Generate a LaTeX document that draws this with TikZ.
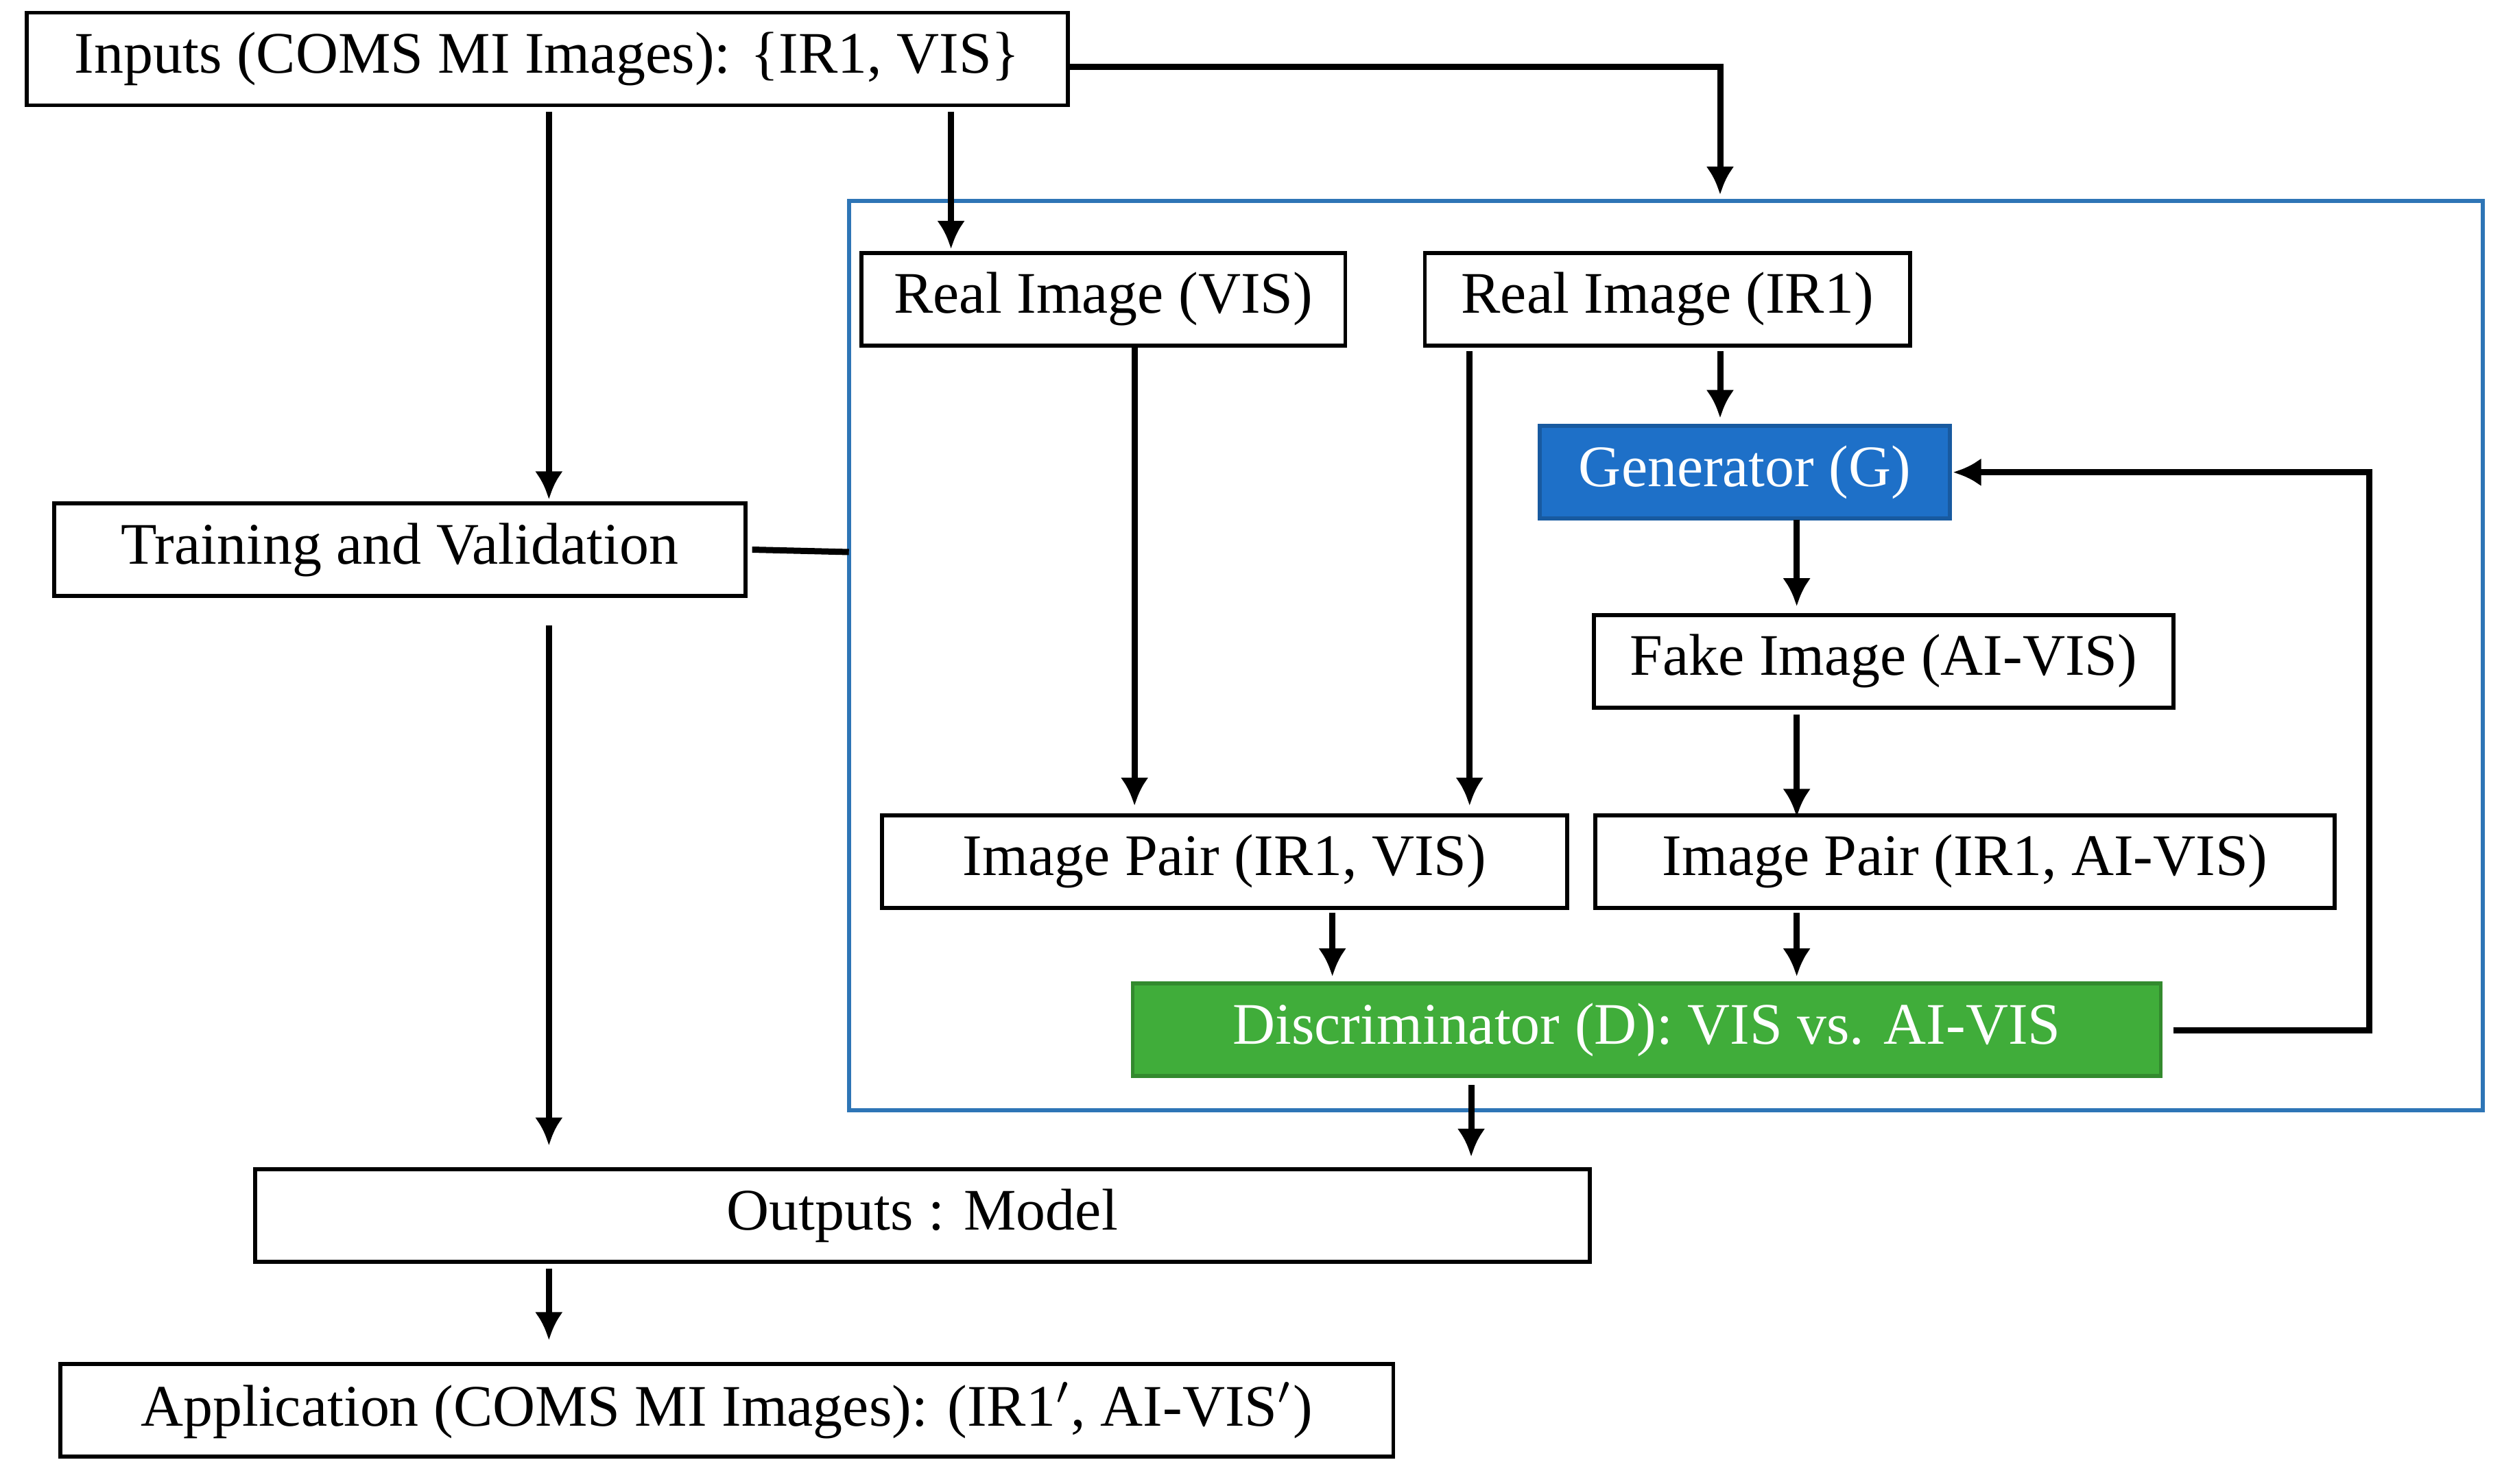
\documentclass[tikz,border=0pt]{standalone}
\usepackage{fontspec}
\setmainfont{Liberation Serif}
\usetikzlibrary{arrows.meta}
\begin{document}
\begin{tikzpicture}[x=0.01cm,y=-0.01cm,
 bx/.style={draw,line width=0.7pt,minimum height=0.58cm,inner sep=0pt,font=\fontsize{10.5}{12}\selectfont},
 ar/.style={line width=1.1pt,-{Latex[length=5pt,width=5pt]}},
 ln/.style={line width=1.1pt}]
\useasboundingbox (0,0) rectangle (1568,930);
\definecolor{fr}{RGB}{46,117,182}
\definecolor{gb}{RGB}{30,112,200}
\definecolor{gg}{RGB}{64,173,58}
\draw[fr,line width=0.7pt] (532,126) rectangle (1556,696);
\node[bx,minimum width=6.52cm] (in) at (343,37) {Inputs (COMS MI Images): \{IR1, VIS\}};
\node[bx,minimum width=3.03cm] (rv) at (691.5,187.5) {Real Image (VIS)};
\node[bx,minimum width=3.04cm] (ri) at (1045,187.5) {Real Image (IR1)};
\node[bx,minimum width=2.57cm,fill=gb,draw=gb!80!black,text=white] (g) at (1093.5,296) {Generator (G)};
\node[bx,minimum width=4.33cm] (tv) at (250.5,344.5) {Training and Validation};
\node[bx,minimum width=3.63cm] (fk) at (1180.5,414.5) {Fake Image (AI-VIS)};
\node[bx,minimum width=4.29cm] (p1) at (767.5,540) {Image Pair (IR1, VIS)};
\node[bx,minimum width=4.63cm] (p2) at (1231.5,540) {Image Pair (IR1, AI-VIS)};
\node[bx,minimum width=6.44cm,fill=gg,draw=gg!80!black,text=white] (d) at (1032,645.5) {Discriminator (D): VIS vs. AI-VIS};
\node[bx,minimum width=8.36cm] (out) at (578,762) {Outputs : Model};
\node[bx,minimum width=8.35cm] (app) at (455.5,884) {Application (COMS MI Images): (IR1$'$, AI-VIS$'$)};
\coordinate (c1) at (1078,42);
\coordinate (c2) at (1078,122);
\draw[ar] (in.east |- c1) -- (c1) -- (c2);
\draw[ar] (596,70) -- (596,156);
\draw[ar] (344,70) -- (344,313);
\coordinate (fl) at (532,346);
\draw[ln] (tv.east) ++(3,0) -- (fl);
\draw[ar] (344,392) -- (344,718);
\draw[ar] (711,218) -- (711,505);
\draw[ar] (921,220) -- (921,505);
\draw[ar] (1078,220) -- (1078,262);
\draw[ar] (1126,326) -- (1126,380);
\draw[ar] (1126,448) -- (1126,512);
\draw[ar] (835,572) -- (835,612);
\draw[ar] (1126,572) -- (1126,612);
\coordinate (r1) at (1485,646);
\coordinate (r2) at (1485,296);
\draw[ar] (1362,646) -- (r1) -- (r2) -- (1224,296);
\draw[ar] (922,680) -- (922,725);
\draw[ar] (344,795) -- (344,840);
\end{tikzpicture}
\end{document}
